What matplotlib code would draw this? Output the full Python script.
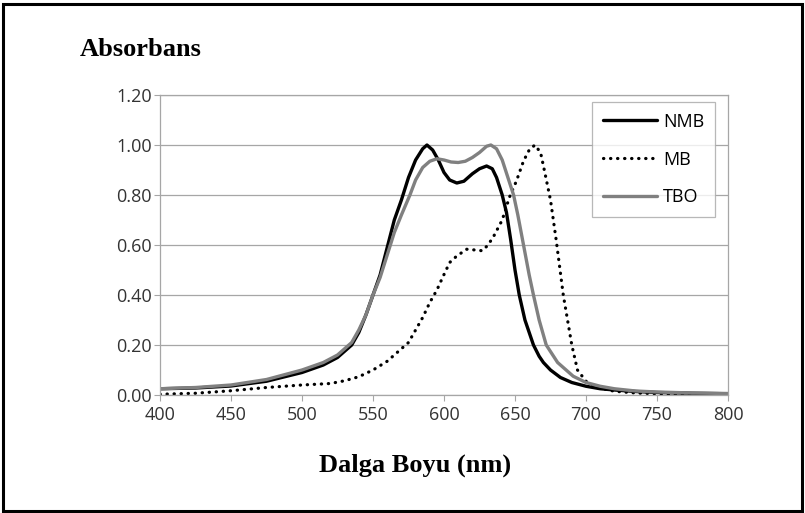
import matplotlib
matplotlib.use("Agg")
import matplotlib.pyplot as plt
import matplotlib.patches as patches

# wavelength (nm) / absorbance
wl_nmb = [400, 425, 450, 475, 500, 515, 525, 535, 540, 545, 550, 555, 560, 565, 570, 575,
          580, 585, 588, 592, 596, 600, 604, 609, 614, 620, 625, 630, 634, 637, 641, 644,
          647, 650, 653, 657, 663, 667, 670, 675, 682, 690, 700, 710, 720, 735, 750, 775, 800]
nmb = [0.025, 0.028, 0.036, 0.055, 0.09, 0.12, 0.15, 0.20, 0.25, 0.32, 0.40, 0.48, 0.59, 0.70,
       0.78, 0.87, 0.94, 0.985, 1.00, 0.98, 0.94, 0.89, 0.86, 0.848, 0.855, 0.885, 0.905, 0.916,
       0.905, 0.87, 0.80, 0.73, 0.62, 0.50, 0.40, 0.30, 0.20, 0.155, 0.13, 0.10, 0.07, 0.05,
       0.035, 0.025, 0.02, 0.014, 0.01, 0.007, 0.005]

wl_mb = [400, 425, 450, 475, 500, 520, 530, 540, 550, 560, 570, 575, 580, 585, 590, 595, 599,
         604, 609, 616, 622, 627, 631, 635, 641, 646, 651, 656, 660, 664, 668, 671, 675, 679,
         684, 690, 694, 700, 708, 720, 735, 750, 775, 800]
mb = [0.003, 0.007, 0.017, 0.03, 0.04, 0.046, 0.057, 0.073, 0.10, 0.135, 0.185, 0.21, 0.26,
      0.31, 0.37, 0.42, 0.47, 0.53, 0.556, 0.583, 0.58, 0.577, 0.60, 0.635, 0.70, 0.79, 0.856,
      0.936, 0.98, 1.00, 0.97, 0.89, 0.78, 0.62, 0.40, 0.20, 0.10, 0.055, 0.03, 0.015, 0.008,
      0.005, 0.003, 0.002]

wl_tbo = [400, 425, 450, 475, 500, 515, 525, 535, 540, 545, 550, 555, 560, 565, 570, 576, 580,
          585, 590, 595, 600, 605, 610, 615, 620, 625, 630, 633, 637, 641, 645, 649, 652, 656,
          660, 663, 667, 672, 680, 691, 700, 710, 720, 735, 750, 775, 800]
tbo = [0.025, 0.03, 0.04, 0.062, 0.10, 0.13, 0.16, 0.21, 0.26, 0.32, 0.40, 0.47, 0.56, 0.65,
       0.72, 0.80, 0.86, 0.91, 0.935, 0.945, 0.94, 0.932, 0.93, 0.935, 0.95, 0.97, 0.995, 1.00,
       0.985, 0.94, 0.87, 0.80, 0.72, 0.60, 0.48, 0.40, 0.30, 0.20, 0.13, 0.075, 0.05, 0.035,
       0.025, 0.016, 0.012, 0.008, 0.006]

x_ticks = [400, 450, 500, 550, 600, 650, 700, 750, 800]
y_ticks = [0.0, 0.2, 0.4, 0.6, 0.8, 1.0, 1.2]

grid_col = "#a6a6a6"
tick_font = "Open Sans"
serif_bold = dict(family="Liberation Serif", weight="bold", size=19)

fig = plt.figure(figsize=(8.05, 5.13), dpi=100)
ax = fig.add_axes([160 / 805, 1 - 395 / 513, 568 / 805, 300 / 513])

ax.plot(wl_nmb, nmb, color="black", lw=2.4, label="NMB", solid_capstyle="round")
ax.plot(wl_mb, mb, color="black", lw=2.3, linestyle=(0, (0.1, 2.1)),
        dash_capstyle="round", label="MB")
ax.plot(wl_tbo, tbo, color="#808080", lw=2.4, label="TBO", solid_capstyle="round")

ax.set_xlim(400, 800)
ax.set_ylim(0, 1.2)
ax.set_xticks(x_ticks)
ax.set_yticks(y_ticks)
ax.set_xticklabels([str(v) for v in x_ticks], fontfamily=tick_font, fontsize=13, color="#333333")
ax.set_yticklabels([f"{v:.2f}" for v in y_ticks], fontfamily=tick_font, fontsize=13, color="#333333")
ax.tick_params(axis="y", direction="out", length=4, width=0.8, color=grid_col, pad=2)
ax.tick_params(axis="x", direction="out", length=4, width=0.8, color=grid_col, pad=4)
ax.yaxis.grid(True, color=grid_col, lw=0.9)
ax.set_axisbelow(True)
for sp in ax.spines.values():
    sp.set_color(grid_col)
    sp.set_linewidth(0.9)

leg = ax.legend(loc="upper left", bbox_to_anchor=(0.76, 0.977), frameon=True, fancybox=False,
                edgecolor=grid_col, prop=dict(family=tick_font, size=13),
                handlelength=3.0, labelspacing=1.1, borderpad=0.6, handletextpad=0.35,
                borderaxespad=0)
leg.get_frame().set_linewidth(0.9)

fig.text(80 / 805, 1 - 50 / 513, "Absorbans", va="center", ha="left", **serif_bold)
fig.text(415 / 805, 1 - 465 / 513, "Dalga Boyu (nm)", va="center", ha="center", **serif_bold)

fig.patches.append(patches.Rectangle((2.5 / 805, 2.5 / 513), 799 / 805, 507 / 513,
                                     transform=fig.transFigure, fill=False,
                                     edgecolor="black", linewidth=2.2))

fig.savefig("out.png", dpi=100)
